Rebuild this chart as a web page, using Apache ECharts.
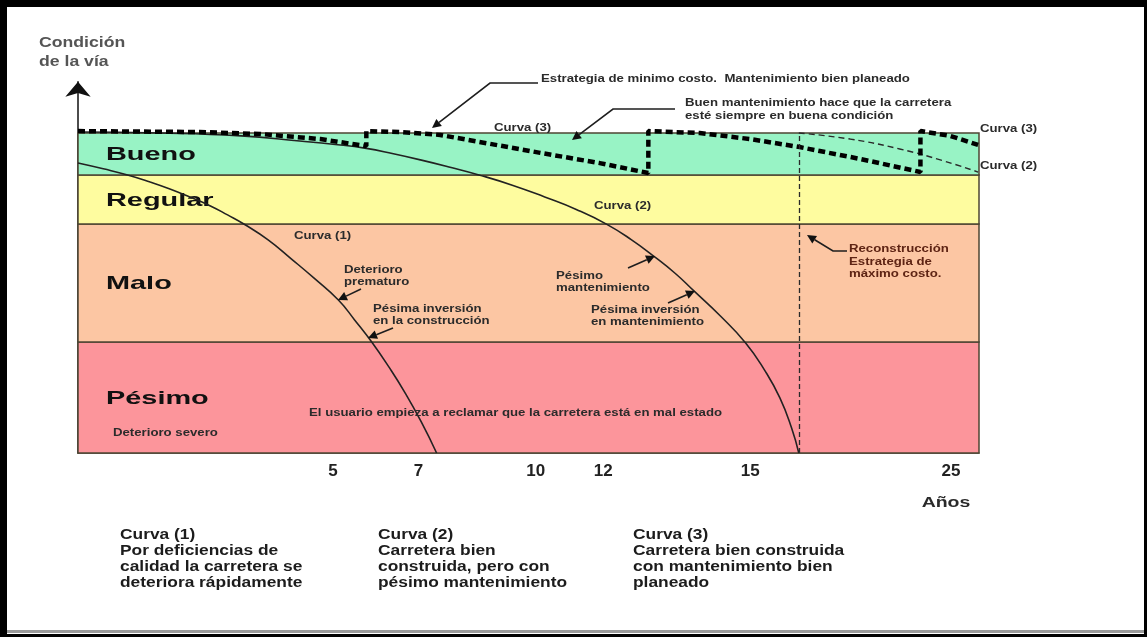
<!DOCTYPE html>
<html>
<head>
<meta charset="utf-8">
<title>Condición de la vía</title>
<script src="https://cdn.jsdelivr.net/npm/echarts@6/dist/echarts.min.js"></script>
<style>
  html, body { margin: 0; padding: 0; background: #fff; }
  #chart { width: 1147px; height: 637px; }
</style>
</head>
<body>
<div id="chart"></div>
<script>
// x runs 0-100 across the plot, y runs 0-100 from bottom of Pésimo to top of Bueno
const yearLabels = ['5', '7', '10', '12', '15', '25'];
const yearPos = [28.3, 37.8, 50.8, 58.3, 74.6, 96.9];

const bandNames = ['Pésimo', 'Malo', 'Regular', 'Bueno'];
const bandBreaks = [0, 34.7, 71.6, 86.9, 100];
const bandColors = ['#fc959b', '#fcc6a3', '#fefc9f', '#98f3c5'];

// Curva (1): deficiencias de calidad
const curve1 = [[0, 90.6], [2.8, 88.8], [5.5, 86.9], [8.0, 84.7], [10.2, 82.5], [12.4, 80.0],
  [14.7, 77.2], [16.6, 74.4], [18.5, 71.4], [21.1, 66.6], [23.7, 60.6], [26.3, 54.4],
  [28.9, 47.8], [30.7, 41.6], [32.6, 34.7], [34.5, 26.9], [36.3, 18.8], [38.1, 9.7], [39.8, 0]];
// Curva (2): bien construida, pésimo mantenimiento
const curve2 = [[0, 100.3], [9.1, 100], [18.1, 99.1], [24.6, 97.5], [28.3, 96.5], [32.0, 95.2],
  [35.0, 93.5], [38.0, 91.6], [41.3, 89.3], [44.5, 86.9], [48.2, 83.7], [51.8, 80.0],
  [55.3, 76.1], [58.6, 71.6], [61.4, 66.7], [64.0, 61.3], [66.3, 56.1], [68.3, 50.8],
  [71.3, 42.8], [74.1, 34.4], [76.2, 25.9], [77.9, 17.2], [79.2, 7.8], [80.0, 0]];
// Curva (3): mantenimiento bien planeado (diente de sierra)
const curve3 = [[0, 100.6], [13.5, 100.3], [20.2, 99.7], [26.9, 98.1], [32.0, 95.9],
  [32.0, 100.6], [35.7, 100.3], [40.2, 99.4], [51.3, 93.8], [57.9, 90.6], [63.3, 87.5],
  [63.3, 100.6], [69.0, 100], [74.6, 98.1], [80.1, 95.6], [86.8, 91.9], [93.5, 87.8],
  [93.5, 100.6], [96.8, 99.1], [99.9, 96.3]];
// Curva (2) tras la reconstrucción
const curve2b = [[80.0, 100], [85.7, 98.1], [91.2, 95.0], [95.7, 91.6], [99.9, 87.8]];
const rebuildAt = 80.0;

const FONT = '"Liberation Sans", Arial, sans-serif';

function label(text, x, y, size, opt) {
  opt = opt || {};
  return {
    type: 'text', x: x, y: y, scaleX: opt.sx || 1.2, silent: true, z: 100,
    style: {
      text: text, font: 'bold ' + size + 'px ' + FONT, fill: opt.color || '#2b2b2b',
      align: opt.align || 'left', textAlign: opt.align || 'left',
      verticalAlign: 'middle', textVerticalAlign: 'middle'
    }
  };
}

function arrow(pts) {
  const n = pts.length, tip = pts[n - 1], prev = pts[n - 2];
  const dx = tip[0] - prev[0], dy = tip[1] - prev[1], len = Math.hypot(dx, dy);
  const ux = dx / len, uy = dy / len, L = 9, W = 4.5;
  const bx = tip[0] - ux * L, by = tip[1] - uy * L;
  return [
    { type: 'polyline', silent: true, z: 100, shape: { points: pts.slice(0, n - 1).concat([[bx, by]]) },
      style: { stroke: '#1e1e1e', lineWidth: 1.6, fill: null } },
    { type: 'polygon', silent: true, z: 100,
      shape: { points: [tip, [bx - uy * W, by + ux * W], [bx + uy * W, by - ux * W]] },
      style: { fill: '#111' } }
  ];
}

const small = [
  ['Estrategia de minimo costo.  Mantenimiento bien planeado', 541, 79],
  ['Buen mantenimiento hace que la carretera', 685, 103],
  ['esté siempre en buena condición', 685, 116],
  ['Curva (3)', 494, 128],
  ['Curva (3)', 980, 129],
  ['Curva (2)', 980, 166],
  ['Curva (2)', 594, 206],
  ['Curva (1)', 294, 236],
  ['Deterioro', 344, 270],
  ['prematuro', 344, 282],
  ['Pésima inversión', 373, 309],
  ['en la construcción', 373, 321],
  ['Pésimo', 556, 276],
  ['mantenimiento', 556, 288],
  ['Pésima inversión', 591, 310],
  ['en mantenimiento', 591, 322],
  ['El usuario empieza a reclamar que la carretera está en mal estado', 309, 413],
  ['Deterioro severo', 113, 433]
];
const rebuildText = ['Reconstrucción', 'Estrategia de', 'máximo costo.'];
const notes = [
  ['Curva (1)', 'Por deficiencias de', 'calidad la carretera se', 'deteriora rápidamente'],
  ['Curva (2)', 'Carretera bien', 'construida, pero con', 'pésimo mantenimiento'],
  ['Curva (3)', 'Carretera bien construida', 'con mantenimiento bien', 'planeado']
];
const noteX = [120, 378, 633];

const graphics = [];
small.forEach(s => graphics.push(label(s[0], s[1], s[2], 11)));
rebuildText.forEach((t, i) => graphics.push(label(t, 849, 249 + i * 12.5, 11, { color: '#5e2414' })));
notes.forEach((col, c) => col.forEach((t, i) => graphics.push(label(t, noteX[c], 535 + i * 16, 14, { sx: 1.24, color: '#1c1c1c' }))));
graphics.push(label('Condición', 39, 43, 14, { sx: 1.26, color: '#555' }));
graphics.push(label('de la vía', 39, 62, 14, { sx: 1.26, color: '#555' }));
graphics.push(label('Años', 946, 503, 15, { sx: 1.3, color: '#2a2a2a', align: 'center' }));

[
  [[538, 83], [490, 83], [432, 128]],
  [[675, 109], [613, 109], [572, 140]],
  [[361, 289], [338, 300]],
  [[393, 328], [368, 338]],
  [[628, 268], [655, 256]],
  [[668, 303], [695, 291]],
  [[847, 251], [833, 251], [807, 235]]
].forEach(p => arrow(p).forEach(e => graphics.push(e)));

// marco negro de la imagen
[[0, 0, 1147, 7, '#000'], [0, 0, 7, 637, '#000'], [1144, 0, 3, 637, '#000'],
 [7, 630, 1137, 3, '#9a9a9a'], [0, 634, 1147, 3, '#000']].forEach(r => graphics.push({
  type: 'rect', silent: true, z: 100, shape: { x: r[0], y: r[1], width: r[2], height: r[3] }, style: { fill: r[4] }
}));

const chart = echarts.init(document.getElementById('chart'));
chart.setOption({
  backgroundColor: '#fff',
  animation: false,
  grid: { left: 78, top: 81.8, width: 901, height: 371.2, outerBoundsMode: 'none' },
  xAxis: {
    type: 'value', min: 0, max: 100,
    axisLine: { show: true, lineStyle: { color: '#3d3528', width: 1.5 } },
    axisTick: { show: false },
    splitLine: { show: false },
    axisLabel: {
      customValues: yearPos,
      formatter: v => {
        const i = yearPos.findIndex(p => Math.abs(p - v) < 0.01);
        return i < 0 ? '' : yearLabels[i];
      },
      fontSize: 17, fontWeight: 'bold', fontFamily: FONT, color: '#222', margin: 10
    }
  },
  yAxis: {
    type: 'value', min: 0, max: 116,
    axisLine: { show: true, symbol: ['none', 'arrow'], symbolSize: [19, 15], lineStyle: { color: '#111', width: 1.5 } },
    axisTick: { show: false },
    axisLabel: { show: false },
    splitLine: { show: false }
  },
  series: [
    {
      type: 'custom', z: 1, silent: true,
      data: bandNames.map((n, i) => [bandBreaks[i], bandBreaks[i + 1]]),
      renderItem: (params, api) => {
        const p0 = api.coord([0, api.value(1)]);
        const p1 = api.coord([100, api.value(0)]);
        return {
          type: 'group',
          children: [
            { type: 'rect', shape: { x: p0[0], y: p0[1], width: p1[0] - p0[0], height: p1[1] - p0[1] },
              style: { fill: bandColors[params.dataIndex], stroke: '#4d4533', lineWidth: 1.5 } },
            { type: 'text', x: p0[0] + 28, y: (p0[1] + p1[1]) / 2 + 1, scaleX: 1.52,
              style: { text: bandNames[params.dataIndex], font: 'bold 19px ' + FONT, fill: '#111',
                align: 'left', textAlign: 'left', verticalAlign: 'middle', textVerticalAlign: 'middle' } }
          ]
        };
      }
    },
    {
      name: 'Curva (1)', type: 'line', data: curve1, smooth: true, symbol: 'none', z: 3,
      lineStyle: { color: '#222', width: 1.6 }
    },
    {
      name: 'Curva (2)', type: 'line', data: curve2, smooth: true, symbol: 'none', z: 3,
      lineStyle: { color: '#222', width: 1.6 }
    },
    {
      name: 'Curva (2) reconstruida', type: 'line', data: curve2b, smooth: true, symbol: 'none', z: 3,
      lineStyle: { color: '#2a2a2a', width: 1.4, type: [6, 4] },
      markLine: {
        silent: true, symbol: 'none', label: { show: false },
        lineStyle: { color: '#2a2a2a', width: 1.3, type: [5, 3] },
        data: [[{ coord: [rebuildAt, 0] }, { coord: [rebuildAt, 100] }]]
      }
    },
    {
      name: 'Curva (3)', type: 'line', data: curve3, smooth: false, symbol: 'none', z: 4,
      lineStyle: { color: '#000', width: 4.5, type: [7, 4] }
    }
  ],
  graphic: { elements: graphics }
});
</script>
</body>
</html>
